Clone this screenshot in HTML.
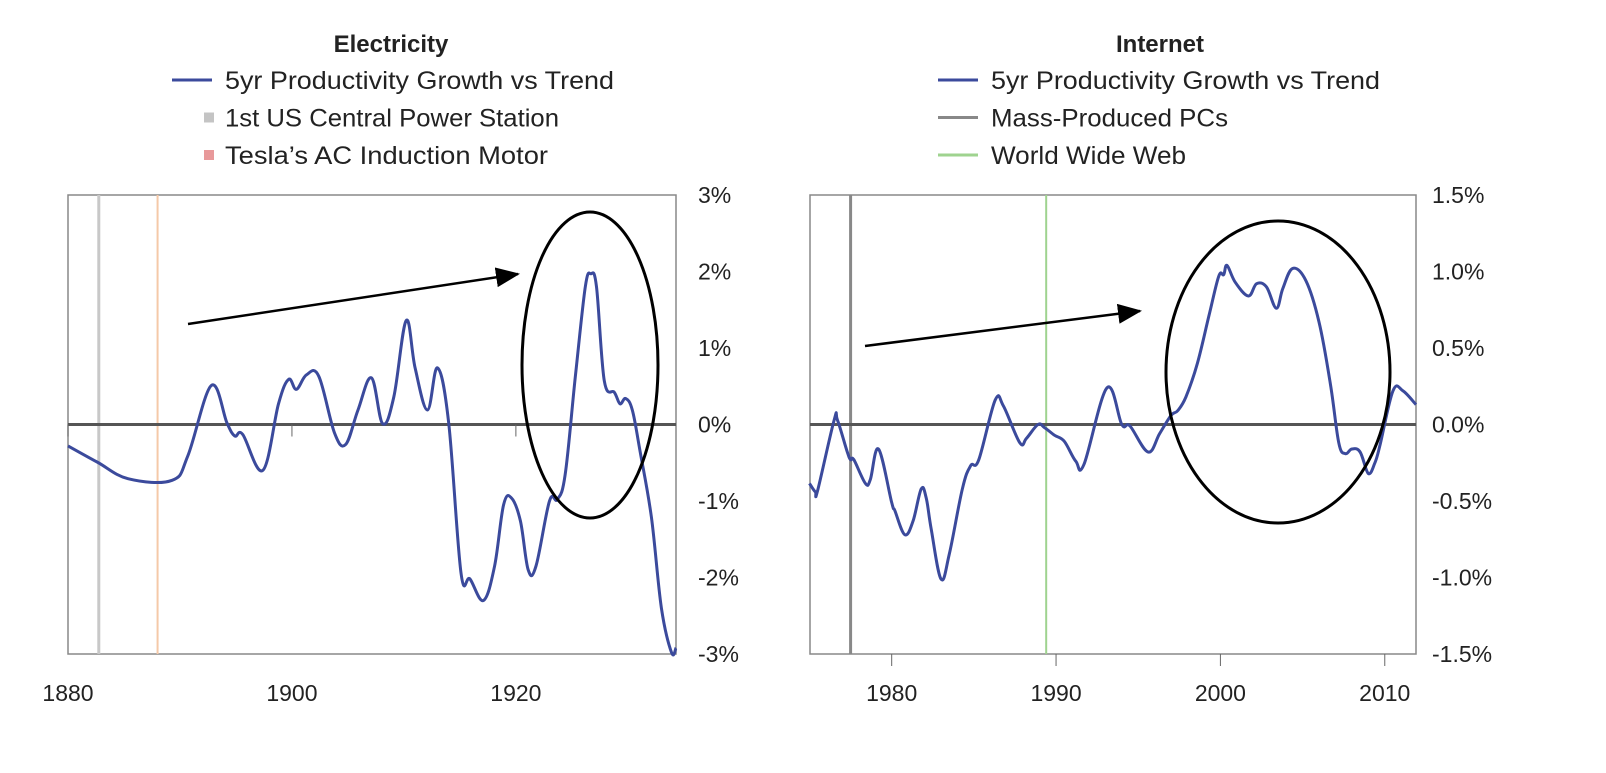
<!DOCTYPE html>
<html><head><meta charset="utf-8"><style>
body{margin:0;background:#fff;}
svg text{font-family:"Liberation Sans",sans-serif;fill:#222;}
</style></head><body>
<svg id="c" width="1606" height="768"></svg>
<script>
const leftYears=[1880,1882.6,1885.4,1889.3,1890.7,1892.8,1894.2,1894.9,1895.6,1897.4,1898.8,1899.7,1900.4,1901.3,1902.4,1903.8,1904.8,1905.9,1907.1,1908.1,1909.1,1910.2,1911.0,1912.1,1913.0,1914.0,1915.1,1915.9,1917.1,1918.1,1918.9,1919.6,1920.4,1921.1,1921.8,1923.0,1923.7,1924.4,1925.3,1926.2,1926.7,1927.2,1927.9,1928.8,1929.3,1929.8,1930.4,1931.1,1932.1,1933.0,1933.9,1934.3];
const leftValues=[-0.28,-0.49,-0.71,-0.73,-0.41,0.51,0.02,-0.15,-0.13,-0.60,0.27,0.59,0.46,0.65,0.63,-0.11,-0.26,0.19,0.61,0.01,0.36,1.36,0.74,0.19,0.74,0.02,-1.94,-2.02,-2.30,-1.85,-1.05,-0.96,-1.26,-1.90,-1.85,-1.0,-0.98,-0.66,0.61,1.80,1.97,1.80,0.57,0.42,0.27,0.34,0.19,-0.36,-1.21,-2.40,-2.98,-2.92];
const rightYears=[1975.0,1975.35,1975.5,1976.5,1976.7,1977.3,1977.5,1977.7,1978.4,1978.7,1979.2,1980.0,1980.2,1980.8,1981.3,1981.8,1982.1,1982.4,1983.0,1983.5,1984.3,1984.8,1985.3,1986.3,1986.8,1987.8,1988.2,1988.9,1989.3,1989.9,1990.5,1991.2,1991.7,1993.1,1994.0,1994.5,1995.6,1996.3,1997.0,1997.4,1997.9,1998.6,1999.3,1999.9,2000.2,2000.4,2000.9,2001.7,2002.2,2002.8,2003.4,2003.8,2004.4,2005.2,2006.0,2006.7,2007.2,2007.6,2008.0,2008.5,2009.0,2009.4,2009.7,2010.5,2011.1,2011.9];
const rightValues=[-0.385,-0.44,-0.43,0.03,0.03,-0.18,-0.23,-0.23,-0.385,-0.36,-0.16,-0.51,-0.565,-0.72,-0.63,-0.42,-0.48,-0.68,-1.01,-0.85,-0.42,-0.27,-0.23,0.16,0.12,-0.12,-0.09,0.0,-0.02,-0.07,-0.11,-0.24,-0.26,0.24,0.0,-0.01,-0.18,-0.06,0.06,0.09,0.18,0.40,0.71,0.97,0.98,1.04,0.93,0.84,0.92,0.90,0.76,0.89,1.02,0.94,0.67,0.26,-0.12,-0.19,-0.16,-0.18,-0.32,-0.25,-0.14,0.22,0.22,0.13];
const leftYTicks=["3%","2%","1%","0%","-1%","-2%","-3%"];
const leftYVals=[3,2,1,0,-1,-2,-3];
const leftXTicks=[1880,1900,1920];
const rightYTicks=["1.5%","1.0%","0.5%","0.0%","-0.5%","-1.0%","-1.5%"];
const rightYVals=[1.5,1,0.5,0,-0.5,-1,-1.5];
const rightXTicks=[1980,1990,2000,2010];
const leftEvents=[1882.75,1888.0];
const rightEvents=[1977.5,1989.4];

const NS="http://www.w3.org/2000/svg";
const svg=document.getElementById('c');
function mk(t,a,p){const e=document.createElementNS(NS,t);for(const k in a)e.setAttribute(k,a[k]);(p||svg).appendChild(e);return e;}
const defs=mk('defs',{});
const mkr=mk('marker',{id:'ah',markerWidth:26,markerHeight:22,refX:22,refY:10,orient:'auto',markerUnits:'userSpaceOnUse'},defs);
mk('path',{d:'M0,0 L24,10 L0,20 Z'},mkr);

function smooth(pts){
  let d='M'+pts[0][0].toFixed(1)+','+pts[0][1].toFixed(1);
  for(let i=0;i<pts.length-1;i++){
    const p0=pts[Math.max(0,i-1)],p1=pts[i],p2=pts[i+1],p3=pts[Math.min(pts.length-1,i+2)];
    const k=0.18;
    const c1=[p1[0]+(p2[0]-p0[0])*k,p1[1]+(p2[1]-p0[1])*k];
    const c2=[p2[0]-(p3[0]-p1[0])*k,p2[1]-(p3[1]-p1[1])*k];
    d+=' C'+c1[0].toFixed(1)+','+c1[1].toFixed(1)+' '+c2[0].toFixed(1)+','+c2[1].toFixed(1)+' '+p2[0].toFixed(1)+','+p2[1].toFixed(1);
  }
  return d;
}

function panel(o){
  const g=mk('g',{});
  
  
  const sx=v=>o.x0+(v-o.xmin)/(o.xmax-o.xmin)*(o.x1-o.x0);
  const sy=v=>o.y0+(o.ymax-v)/(o.ymax-o.ymin)*(o.y1-o.y0);
  let t=mk('text',{x:o.cx,y:52,'text-anchor':'middle','font-size':24,'font-weight':'bold'},g);t.textContent=o.title;
  
  o.legend.forEach((L,i)=>{
    const y=80+i*37.5;
    const lg=mk('g',{},g);
    
    if(L.sq) mk('rect',{x:o.lx+32,y:y-5,width:10,height:10,fill:L.c},lg);
    else mk('line',{x1:o.lx,x2:o.lx+40,y1:y,y2:y,stroke:L.c,'stroke-width':3},lg);
    const tt=mk('text',{x:o.lx+53,y:y+9,'font-size':25,textLength:L.w,lengthAdjust:'spacingAndGlyphs'},lg);tt.textContent=L.t;
  });
  mk('rect',{x:o.x0,y:o.y0,width:o.x1-o.x0,height:o.y1-o.y0,fill:'none',stroke:'#888','stroke-width':1.5},g);
  o.events.forEach((ev,i)=>{const l=mk('line',{x1:sx(ev),x2:sx(ev),y1:o.y0,y2:o.y1,stroke:o.evc[i],'stroke-width':o.evw[i]},g);
    });
  const z=mk('line',{x1:o.x0,x2:o.x1,y1:sy(0),y2:sy(0),stroke:'#555','stroke-width':3},g);
  
  o.yv.forEach((v,i)=>{const tt=mk('text',{x:o.x1+o.ylo,y:sy(v)+8,'font-size':23},g);tt.textContent=o.yl[i];
    });
  o.xt.forEach(v=>{
    if(o.tickBottom) mk('line',{x1:sx(v),x2:sx(v),y1:o.y1,y2:o.y1+12,stroke:'#666','stroke-width':1},g);
    else mk('line',{x1:sx(v),x2:sx(v),y1:sy(0),y2:sy(0)+12,stroke:'#666','stroke-width':1},g);
    const tt=mk('text',{x:sx(v),y:701,'text-anchor':'middle','font-size':23},g);tt.textContent=v;
    });
  const pts=o.xs.map((x,i)=>[sx(x),sy(o.ys[i])]);
  const p=mk('path',{d:smooth(pts),fill:'none',stroke:'#3b4a9c','stroke-width':3,'stroke-linejoin':'round'},g);
  
  const a=mk('line',{x1:o.ar[0],y1:o.ar[1],x2:o.ar[2],y2:o.ar[3],stroke:'#000','stroke-width':2.5,'marker-end':'url(#ah)'},g);
  
  const e=mk('ellipse',{cx:o.el[0],cy:o.el[1],rx:o.el[2],ry:o.el[3],fill:'none',stroke:'#000','stroke-width':3},g);
  
}
panel({name:'electricity-panel',title:'Electricity',cx:391,lx:172,ylo:22,
 legend:[{t:'5yr Productivity Growth vs Trend',c:'#3b4a9c',w:389},{t:'1st US Central Power Station',c:'#c4c4c4',sq:1,w:334},{t:'Tesla’s AC Induction Motor',c:'#e8999a',sq:1,w:323}],
 x0:68,x1:676,y0:195,y1:654,xmin:1880,xmax:1934.3,ymin:-3,ymax:3,
 events:leftEvents,evc:['#c8c8c8','#f5c9a8'],evw:[3,2],yv:leftYVals,yl:leftYTicks,xt:leftXTicks,tickBottom:false,
 xs:leftYears,ys:leftValues,ar:[188,324,518,274],el:[590,365,68,153]});
panel({name:'internet-panel',title:'Internet',cx:1160,lx:938,ylo:16,
 legend:[{t:'5yr Productivity Growth vs Trend',c:'#3b4a9c',w:389},{t:'Mass-Produced PCs',c:'#888',w:237},{t:'World Wide Web',c:'#9fd38f',w:195}],
 x0:810,x1:1416,y0:195,y1:654,xmin:1975.03,xmax:2011.9,ymin:-1.5,ymax:1.5,
 events:rightEvents,evc:['#888','#9fd38f'],evw:[3,2],yv:rightYVals,yl:rightYTicks,xt:rightXTicks,tickBottom:true,
 xs:rightYears,ys:rightValues,ar:[865,346,1140,311],el:[1278,372,112,151]});
</script>
</body></html>
